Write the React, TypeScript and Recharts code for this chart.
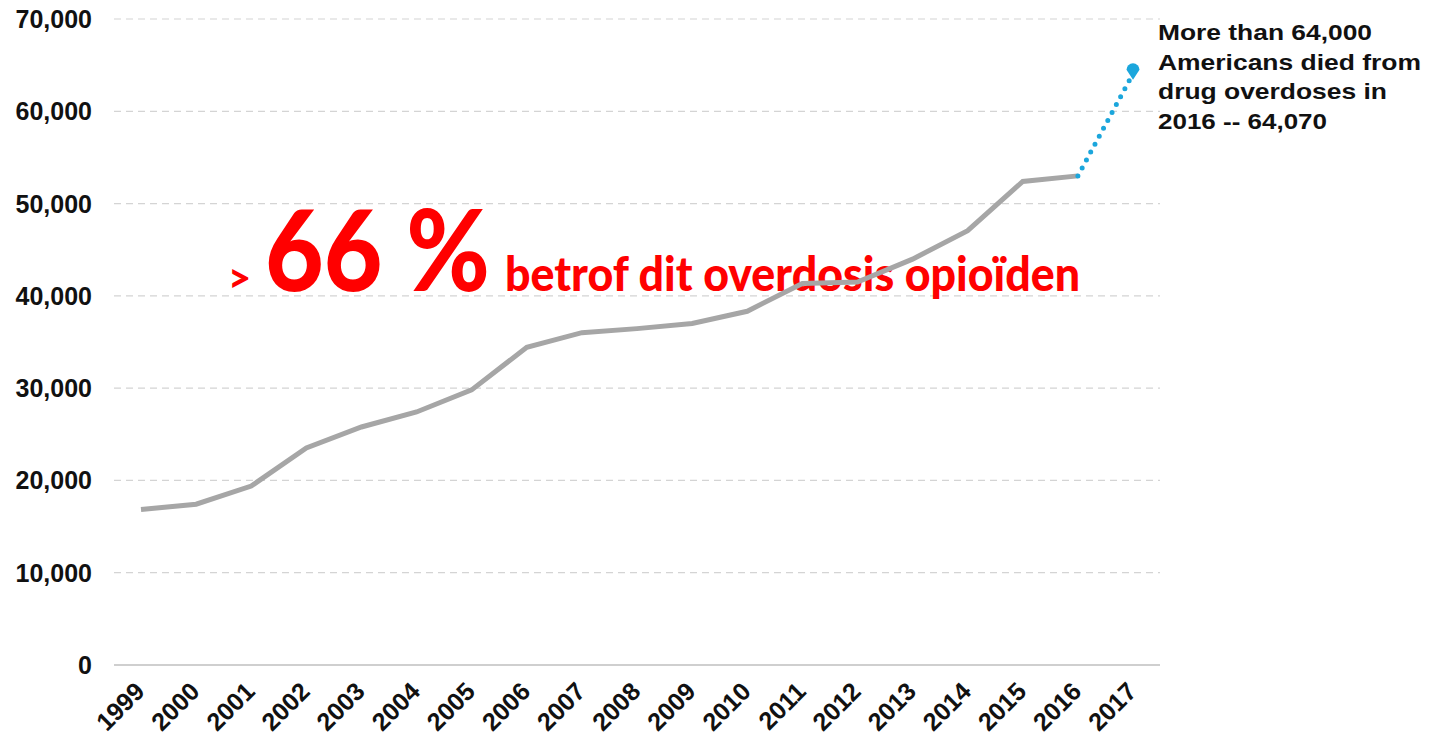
import React from 'react';
import { LineChart, Line, XAxis, YAxis, CartesianGrid, Customized } from 'recharts';

const years = ['1999','2000','2001','2002','2003','2004','2005','2006','2007','2008','2009','2010','2011','2012','2013','2014','2015','2016','2017'];
const deaths: (number | null)[] = [16850, 17420, 19390, 23520, 25790, 27420, 29810, 34430, 36010, 36450, 37000, 38330, 41340, 41500, 43980, 47060, 52400, 53000, null];
const projected: (number | null)[] = [null, null, null, null, null, null, null, null, null, null, null, null, null, null, null, null, null, 53000, 64070];
const yTicks = [0, 10000, 20000, 30000, 40000, 50000, 60000, 70000];
const noteLines = ['More than 64,000', 'Americans died from', 'drug overdoses in', '2016 -- 64,070'];
const noteWidths = [214, 263, 229, 169];

const data = years.map((y, i) => ({ year: y, deaths: deaths[i], projected: projected[i] }));

const AXIS_FONT = '"Liberation Sans", Arial, sans-serif';

const XTick = (props: any) => {
  const { x, y, payload } = props;
  const ax = x + 5;
  const ay = y + 20;
  return (
    <text
      x={ax}
      y={ay}
      transform={`rotate(-45, ${ax}, ${ay})`}
      textAnchor="end"
      fontFamily={AXIS_FONT}
      fontWeight="bold"
      fontSize={25}
      fill="#111"
    >
      {payload.value}
    </text>
  );
};

const YTick = (props: any) => {
  const { x, y, payload } = props;
  return (
    <text
      x={x}
      y={y}
      dy={9}
      textAnchor="end"
      fontFamily={AXIS_FONT}
      fontWeight="bold"
      fontSize={25}
      fill="#111"
    >
      {payload.value.toLocaleString('en-US')}
    </text>
  );
};

const PinDot = (props: any) => {
  const { cx, cy, index } = props;
  if (index !== years.length - 1 || cx == null || cy == null) return null;
  const r = 6.5;
  const c = cy - 4;
  return (
    <path
      d={`M ${cx - r} ${c} A ${r} ${r} 0 1 1 ${cx + r} ${c} L ${cx} ${c + 10} Z`}
      fill="#1ba6dc"
    />
  );
};

const Overlay = () => (
  <g>
    <text x={228} y={292} fontFamily="Lato, sans-serif" fontWeight={900} fontSize={40} fill="#ff0000">&gt;</text>
    <text x={265} y={291} fontFamily="Lato, sans-serif" fontWeight={900} fontSize={112} fill="#ff0000" textLength={225} lengthAdjust="spacingAndGlyphs">66 %</text>
    <text x={505} y={291} fontFamily="Lato, sans-serif" fontWeight={900} fontSize={47} fill="#ff0000" textLength={575} lengthAdjust="spacingAndGlyphs">betrof dit overdosis opioïden</text>
    {noteLines.map((t, i) => (
      <text
        key={i}
        x={1158}
        y={40 + i * 29.7}
        fontFamily={AXIS_FONT}
        fontWeight="bold"
        fontSize={22}
        fill="#111"
        textLength={noteWidths[i]}
        lengthAdjust="spacingAndGlyphs"
      >
        {t}
      </text>
    ))}
  </g>
);

export default function App() {
  return (
    <div style={{ position: 'absolute', left: 0, top: 0, width: 1432, height: 741, background: '#fff' }}>
      <LineChart width={1432} height={741} data={data} margin={{ top: 19, right: 272, bottom: 0, left: 0 }}>
        <CartesianGrid vertical={false} stroke="#d4d4d4" strokeDasharray="7 5" strokeWidth={1.2} />
        <XAxis
          dataKey="year"
          height={76}
          padding={{ left: 27, right: 27 }}
          tickLine={false}
          axisLine={{ stroke: '#cfcfcf', strokeWidth: 2 }}
          tick={<XTick />}
          interval={0}
        />
        <YAxis
          width={114}
          domain={[0, 70000]}
          ticks={yTicks}
          axisLine={false}
          tickLine={false}
          tickSize={0}
          tickMargin={22}
          tick={<YTick />}
        />
        <Line
          dataKey="deaths"
          stroke="#a6a6a6"
          strokeWidth={5}
          dot={false}
          isAnimationActive={false}
          connectNulls={false}
        />
        <Line
          dataKey="projected"
          stroke="#1ba6dc"
          strokeWidth={5}
          strokeDasharray="0 9"
          strokeLinecap="round"
          dot={<PinDot />}
          isAnimationActive={false}
        />
        <Customized component={Overlay} />
      </LineChart>
    </div>
  );
}
